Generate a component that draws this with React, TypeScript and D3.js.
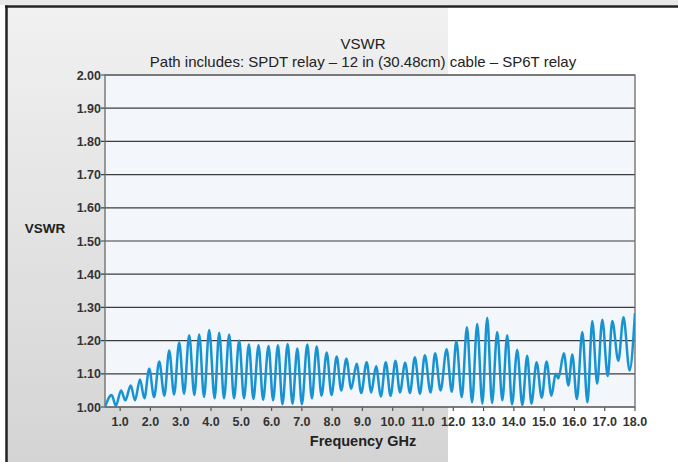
import React from "react";
import * as d3 from "d3";

// peaks and troughs (GHz, VSWR)
const freqGHz = [
  0.5, 0.72, 0.86, 1.03, 1.17, 1.35, 1.49, 1.655, 1.8, 1.96,
  2.12, 2.29, 2.46, 2.62, 2.78, 2.95, 3.11, 3.28, 3.45, 3.61,
  3.77, 3.94, 4.12, 4.27, 4.43, 4.6, 4.76, 4.93, 5.09, 5.25,
  5.4, 5.57, 5.72, 5.9, 6.05, 6.21, 6.36, 6.53, 6.69, 6.85,
  7.0, 7.18, 7.33, 7.49, 7.65, 7.82, 7.98, 8.15, 8.3, 8.47,
  8.63, 8.81, 8.96, 9.14, 9.29, 9.45, 9.61, 9.77, 9.93, 10.09,
  10.24, 10.41, 10.57, 10.73, 10.9, 11.06, 11.25, 11.4, 11.58, 11.78,
  11.95, 12.1, 12.28, 12.45, 12.62, 12.79, 12.96, 13.12, 13.28, 13.45,
  13.62, 13.78, 13.94, 14.11, 14.28, 14.44, 14.58, 14.75, 14.92, 15.08,
  15.24, 15.38, 15.47, 15.65, 15.8, 15.93, 16.08, 16.26, 16.43, 16.59,
  16.75, 16.92, 17.1, 17.25, 17.45, 17.62, 17.82, 18.0,
];

const vswr = [
  1.0, 1.036, 1.004, 1.05, 1.02, 1.065, 1.02, 1.083, 1.026, 1.115,
  1.03, 1.137, 1.034, 1.17, 1.038, 1.194, 1.04, 1.216, 1.036, 1.218,
  1.03, 1.232, 1.026, 1.224, 1.026, 1.218, 1.026, 1.2, 1.026, 1.188,
  1.024, 1.186, 1.022, 1.184, 1.02, 1.186, 1.008, 1.19, 1.01, 1.176,
  1.008, 1.188, 1.026, 1.182, 1.034, 1.164, 1.036, 1.152, 1.05, 1.145,
  1.055, 1.13, 1.042, 1.135, 1.044, 1.123, 1.032, 1.135, 1.034, 1.139,
  1.044, 1.133, 1.042, 1.15, 1.04, 1.156, 1.044, 1.162, 1.05, 1.174,
  1.046, 1.198, 1.03, 1.24, 1.014, 1.25, 1.01, 1.269, 1.012, 1.226,
  1.02, 1.216, 1.008, 1.172, 1.006, 1.154, 1.01, 1.135, 1.028, 1.137,
  1.034, 1.1, 1.086, 1.162, 1.065, 1.158, 1.024, 1.226, 1.014, 1.259,
  1.07, 1.263, 1.093, 1.259, 1.139, 1.27, 1.11, 1.283,
];

const xTicks = [1, 2, 3, 4, 5, 6, 7, 8, 9, 10, 11, 12, 13, 14, 15, 16, 17, 18];
const yTicks = [1.0, 1.1, 1.2, 1.3, 1.4, 1.5, 1.6, 1.7, 1.8, 1.9, 2.0];

const title = "VSWR";
const subtitle = "Path includes: SPDT relay \u2013 12 in (30.48cm) cable \u2013 SP6T relay";

const W = 678;
const H = 462;
const plot = { left: 105, right: 635, top: 75, bottom: 407 };
const font = "Helvetica, Arial, 'Liberation Sans', sans-serif";

export default function App() {
  const x = d3.scaleLinear().domain([0.5, 18]).range([plot.left, plot.right]);
  const y = d3.scaleLinear().domain([1, 2]).range([plot.bottom, plot.top]);

  const pts: [number, number][] = freqGHz.map((f, i) => [f, vswr[i]]);
  const line = d3
    .line<[number, number]>()
    .x((d) => x(d[0]))
    .y((d) => y(d[1]))
    .curve(d3.curveMonotoneX);

  const cx = 363;

  return (
    <svg
      width={W}
      height={H}
      style={{ position: "absolute", left: 0, top: 0 }}
      fontFamily={font}
    >
      <defs>
        <linearGradient id="panel" x1="0" y1="0" x2="0" y2="1">
          <stop offset="0%" stopColor="#f1f1f1" />
          <stop offset="100%" stopColor="#d4d4d5" />
        </linearGradient>
        <clipPath id="plotClip">
          <rect
            x={plot.left}
            y={plot.top - 2}
            width={plot.right - plot.left}
            height={plot.bottom - plot.top + 6}
          />
        </clipPath>
      </defs>

      <rect x={0} y={0} width={W} height={H} fill="#ffffff" />
      <rect x={0} y={0} width={W} height={5} fill="#e9e9e9" />
      <rect x={6} y={6} width={442} height={H - 6} fill="url(#panel)" />
      <line x1={5} x2={W} y1={6.5} y2={6.5} stroke="#222" strokeWidth={2.5} />
      <line x1={6.5} x2={6.5} y1={5.5} y2={H} stroke="#222" strokeWidth={2.5} />

      <text x={cx} y={49} textAnchor="middle" fontSize={15} fill="#222">
        {title}
      </text>
      <text x={cx} y={67} textAnchor="middle" fontSize={15} fill="#222">
        {subtitle}
      </text>

      <rect
        x={plot.left}
        y={plot.top}
        width={plot.right - plot.left}
        height={plot.bottom - plot.top}
        fill="#f3f6fb"
      />

      {yTicks.map((t) => (
        <g key={t}>
          <line
            x1={plot.left - 4}
            x2={plot.right}
            y1={y(t)}
            y2={y(t)}
            stroke="#3c3c3c"
            strokeWidth={1.2}
          />
          <text
            x={plot.left - 4}
            y={y(t) + 4.5}
            textAnchor="end"
            fontSize={12.5}
            fontWeight="bold"
            fill="#333"
          >
            {t.toFixed(2)}
          </text>
        </g>
      ))}

      {xTicks.map((t) => (
        <g key={t}>
          <line
            x1={x(t)}
            x2={x(t)}
            y1={plot.bottom}
            y2={plot.bottom + 4}
            stroke="#555"
            strokeWidth={1.2}
          />
          <text
            x={x(t)}
            y={plot.bottom + 19}
            textAnchor="middle"
            fontSize={12.5}
            fontWeight="bold"
            fill="#333"
          >
            {t.toFixed(1)}
          </text>
        </g>
      ))}

      <rect
        x={plot.left}
        y={plot.top}
        width={plot.right - plot.left}
        height={plot.bottom - plot.top}
        fill="none"
        stroke="#6a6a6a"
        strokeWidth={1.3}
      />

      <path
        d={line(pts) ?? ""}
        fill="none"
        stroke="#1793d2"
        strokeWidth={2.5}
        strokeLinejoin="round"
        clipPath="url(#plotClip)"
      />

      <text x={45} y={233} textAnchor="middle" fontSize={13.5} fontWeight="bold" fill="#222">
        VSWR
      </text>
      <text x={cx} y={446} textAnchor="middle" fontSize={14.5} fontWeight="bold" fill="#222">
        Frequency GHz
      </text>
    </svg>
  );
}
